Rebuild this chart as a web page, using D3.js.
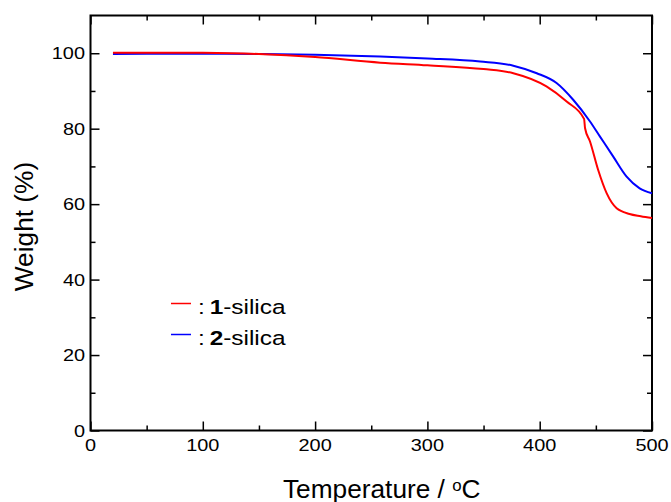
<!DOCTYPE html>
<html><head><meta charset="utf-8">
<script src="https://cdn.jsdelivr.net/npm/d3@7"></script>
<style>body{margin:0;background:#fff}svg{font-family:"Liberation Sans",Arial,sans-serif}</style>
</head><body><svg id="c" width="671" height="502"></svg>
<script>
const xTicks = [0,100,200,300,400,500];
const yTicks = [0,20,40,60,80,100];
const seriesNames = ["1","2"];
const seriesColors = ["#ff0000","#0000ff"];
const temp1 = [20,50,100,150,200,258,300,350,376.5,406,424,439.5,440.4,444.8,452,459.6,468.5,480,490,500];
const weight1 = [100.1,100.15,100.1,99.8,99.0,97.5,96.8,95.8,94.7,91.2,87.2,82.6,80.1,76.6,69.1,62.9,58.9,57.4,56.8,56.3];
const temp2 = [20,50,100,150,200,258,300,347,376.5,397.4,415,430,444.8,453.7,465.5,477.4,489,500];
const weight2 = [99.8,99.85,99.85,99.8,99.6,99.1,98.6,97.8,96.7,94.7,92.1,87.6,81.9,77.9,72.6,67.3,64.2,62.9];

const svg = d3.select("#c");
const L=90.5, R=652, T=15.5, B=430.5;
const x = d3.scaleLinear().domain([0,500]).range([L,R]);
const y = d3.scaleLinear().domain([0,110]).range([B,T]);
const g = svg.append("g");

g.append("rect").attr("x",L).attr("y",T).attr("width",R-L).attr("height",B-T)
 .attr("fill","none").attr("stroke","#000").attr("stroke-width",2);

const SX = 1.17;
const xMinor = d3.range(50,500,100);
const yMinor = d3.range(10,110,20);
function ticks(axisGen, tr, vals, size){
  const a = g.append("g").attr("transform",tr).call(axisGen.tickValues(vals).tickSizeInner(size).tickSizeOuter(0).tickFormat(""));
  a.select(".domain").remove();
  a.selectAll("line").attr("stroke","#000").attr("stroke-width",1.5);
  return a;
}
ticks(d3.axisBottom(x), `translate(0,${B})`, xTicks, -9);
ticks(d3.axisBottom(x), `translate(0,${B})`, xMinor, -5);
ticks(d3.axisTop(x), `translate(0,${T})`, xTicks, -9);
ticks(d3.axisTop(x), `translate(0,${T})`, xMinor, -5);
ticks(d3.axisLeft(y), `translate(${L},0)`, yTicks, -9);
ticks(d3.axisLeft(y), `translate(${L},0)`, yMinor, -5);
ticks(d3.axisRight(y), `translate(${R},0)`, yTicks, -9);
ticks(d3.axisRight(y), `translate(${R},0)`, yMinor, -5);

xTicks.forEach(v=>{
  g.append("text").attr("transform",`translate(${x(v)},${450.5}) scale(${SX},1)`)
   .attr("text-anchor","middle").attr("font-size",17).text(v);
});
yTicks.forEach(v=>{
  g.append("text").attr("transform",`translate(${85},${y(v)+6}) scale(${SX},1)`)
   .attr("text-anchor","end").attr("font-size",17).text(v);
});

const line = d3.line().x(d=>x(d[0])).y(d=>y(d[1])).curve(d3.curveMonotoneX);
const data = [d3.zip(temp1,weight1), d3.zip(temp2,weight2)];
[1,0].forEach(i=>{
  g.append("path").datum(data[i]).attr("d",line).attr("fill","none")
   .attr("stroke",seriesColors[i]).attr("stroke-width",2);
});

seriesNames.forEach((n,i)=>{
  const yy = 303.5 + i*31;
  g.append("line").attr("x1",171).attr("x2",191).attr("y1",yy).attr("y2",yy)
   .attr("stroke",seriesColors[i]).attr("stroke-width",1.5);
  const t = g.append("text").attr("transform",`translate(198,${yy+10}) scale(1.19,1)`).attr("font-size",20.5).attr("fill","#000");
  t.append("tspan").text(":\u2009");
  t.append("tspan").attr("font-weight","bold").text(n);
  t.append("tspan").text("-silica");
});

svg.append("text").attr("transform","translate(32.5,226.5) rotate(-90) scale(1.03,1)").attr("text-anchor","middle")
  .attr("font-size",25.5).text("Weight (%)");
const xt = svg.append("text").attr("transform","translate(283,497.5) scale(1.05,1)").attr("font-size",25);
xt.append("tspan").text("Temperature / ");
xt.append("tspan").attr("font-size",16).attr("dy",-7).text("o");
xt.append("tspan").attr("dy",7).text("C");
</script></body></html>
